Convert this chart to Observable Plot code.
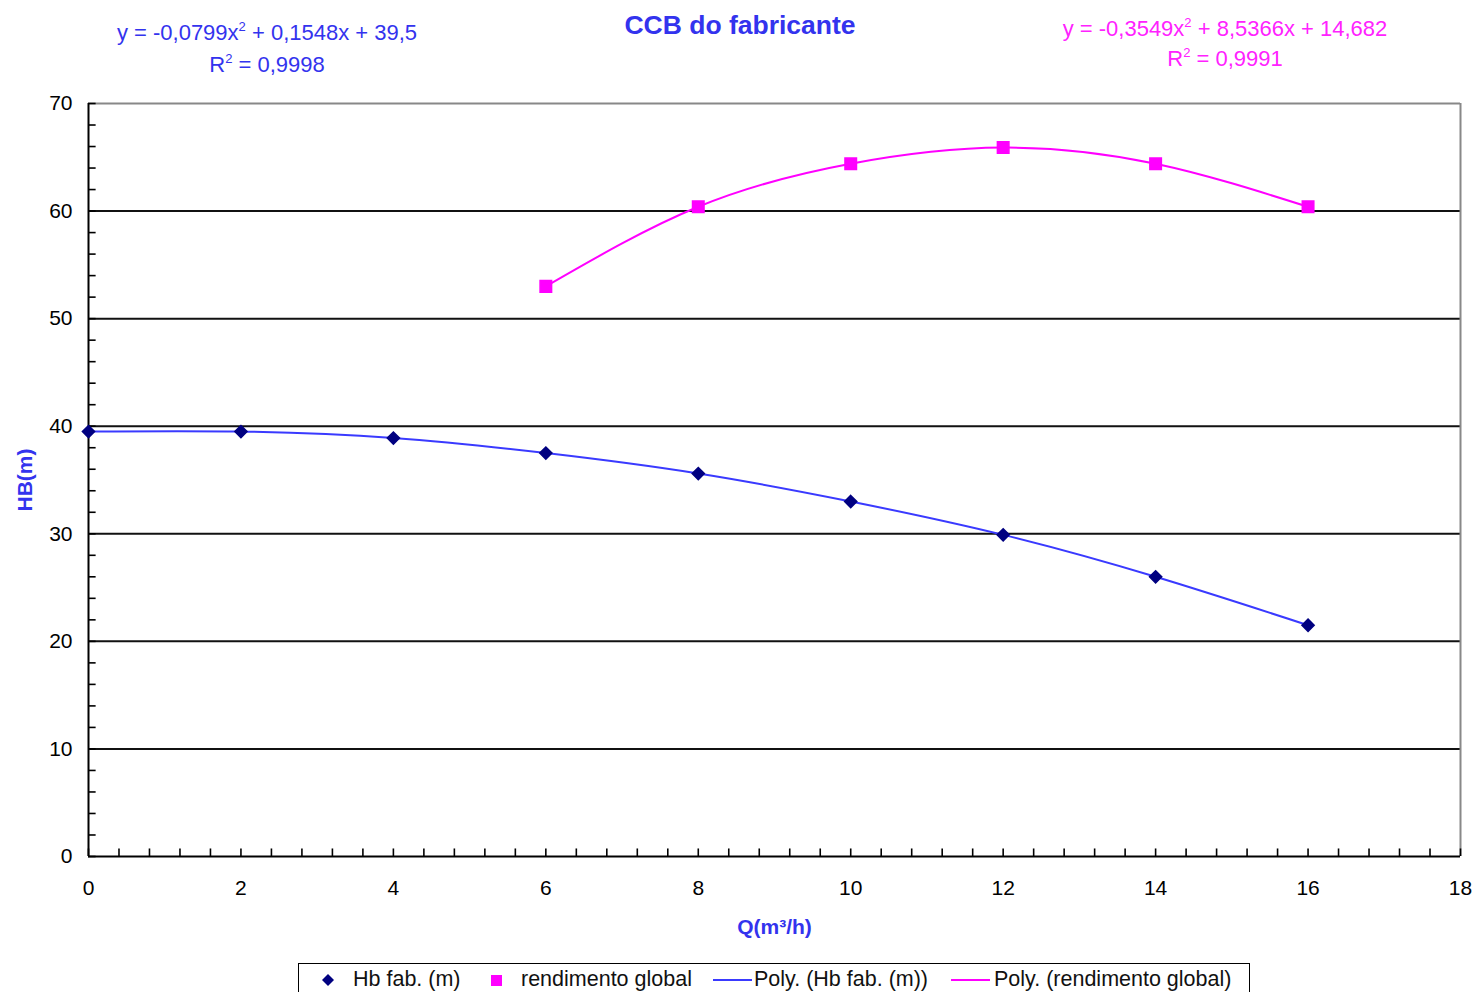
<!DOCTYPE html>
<html>
<head>
<meta charset="utf-8">
<script src="https://cdn.jsdelivr.net/npm/d3@7"></script>
<script src="https://cdn.jsdelivr.net/npm/@observablehq/plot@0.6"></script>
<style>
  html, body { margin: 0; padding: 0; background: #fff; }
  #wrap { position: relative; width: 1474px; height: 992px; overflow: hidden; font-family: "Liberation Sans", Arial, sans-serif; }
  .abs { position: absolute; white-space: nowrap; }
  .eq { font-size: 22px; line-height: 1; transform: translate(-50%, -50%); }
  .eq sup { font-size: 13px; vertical-align: 0; position: relative; top: -9px; }
  #title { left: 740px; top: 25px; transform: translate(-50%, -50%); font-size: 26.5px; font-weight: bold; color: #3333ee; }
  #legend { position: absolute; left: 298px; top: 963px; width: 952px; height: 40px; border: 1.5px solid #000; box-sizing: border-box; }
  .lg { position: absolute; top: 16px; line-height: 1; transform: translateY(-50%); font-size: 21.5px; color: #111; white-space: nowrap; }
</style>
</head>
<body>
<div id="wrap">
  <div id="chart" class="abs" style="left:0;top:0"></div>
  <div id="title" class="abs">CCB do fabricante</div>
  <div class="abs eq" style="left:267px;top:33px;color:#3333ee">y = -0,0799x<sup>2</sup> + 0,1548x + 39,5</div>
  <div class="abs eq" style="left:267px;top:65px;color:#3333ee">R<sup>2</sup> = 0,9998</div>
  <div class="abs eq" style="left:1225px;top:29px;color:#ff22ff">y = -0,3549x<sup>2</sup> + 8,5366x + 14,682</div>
  <div class="abs eq" style="left:1225px;top:59px;color:#ff22ff">R<sup>2</sup> = 0,9991</div>
  <div id="legend"></div>
</div>
<script>
// ---- data ----
const qHb = [0, 2, 4, 6, 8, 10, 12, 14, 16];
const hbFab = [39.5, 39.5, 38.9, 37.5, 35.6, 33.0, 29.9, 26.0, 21.5];
const qRend = [6, 8, 10, 12, 14, 16];
const rendimento = [53.0, 60.4, 64.4, 65.9, 64.4, 60.4];
const xTicks = [0, 2, 4, 6, 8, 10, 12, 14, 16, 18];
const yTicks = [0, 10, 20, 30, 40, 50, 60, 70];
const gridY = [10, 20, 30, 40, 50, 60];
const xMinor = d3.range(0, 18.001, 0.4).map(v => +v.toFixed(1));
const yMinor = d3.range(0, 70.001, 2);
const legendLabels = ["Hb fab. (m)", "rendimento global", "Poly. (Hb fab. (m))", "Poly. (rendimento global)"];

const hbData = qHb.map((q, i) => ({q, v: hbFab[i]}));
const rendData = qRend.map((q, i) => ({q, v: rendimento[i]}));

const blueLine = "#3a3aff";
const navy = "#000080";
const magenta = "#ff00ff";
const axisBlue = "#3333ee";

const chart = Plot.plot({
  width: 1474,
  height: 992,
  marginLeft: 88,
  marginRight: 14,
  marginTop: 103,
  marginBottom: 136,
  style: {fontFamily: '"Liberation Sans", Arial, sans-serif', fontSize: "21px", background: "transparent", color: "#000"},
  x: {domain: [0, 18]},
  y: {domain: [0, 70]},
  marks: [
    Plot.ruleY(gridY, {stroke: "#111", strokeWidth: 2}),
    Plot.ruleY([70], {stroke: "#888", strokeWidth: 2}),
    Plot.ruleX([18], {stroke: "#888", strokeWidth: 2}),
    Plot.ruleX(xMinor, {x: d => d, y1: 0, y2: 0.7, stroke: "#000", strokeWidth: 1.6}),
    Plot.ruleY(yMinor, {y: d => d, x1: 0, x2: 0.1, stroke: "#000", strokeWidth: 1.6}),
    Plot.ruleX([0], {stroke: "#000", strokeWidth: 2}),
    Plot.ruleY([0], {stroke: "#000", strokeWidth: 2}),
    Plot.axisY(yTicks, {anchor: "left", tickSize: 0, tickPadding: 16, fontSize: 21, fill: "#000", label: null}),
    Plot.axisX(xTicks, {anchor: "bottom", tickSize: 0, tickPadding: 24, fontSize: 21, fill: "#000", label: null}),
    Plot.line(hbData, {x: "q", y: "v", curve: "natural", stroke: blueLine, strokeWidth: 2}),
    Plot.line(rendData, {x: "q", y: "v", curve: "natural", stroke: magenta, strokeWidth: 2}),
    Plot.dot(hbData, {x: "q", y: "v", symbol: "diamond2", r: 5.5, fill: navy, stroke: navy}),
    Plot.dot(rendData, {x: "q", y: "v", symbol: "square", r: 6.5, fill: magenta, stroke: magenta}),
    Plot.text(["HB(m)"], {frameAnchor: "left", textAnchor: "middle", lineAnchor: "middle", rotate: -90, dx: -63, fill: axisBlue, fontWeight: "bold", fontSize: 21}),
    Plot.text(["Q(m³/h)"], {frameAnchor: "bottom", lineAnchor: "middle", dy: 71, fill: axisBlue, fontWeight: "bold", fontSize: 21})
  ]
});
document.getElementById("chart").appendChild(chart);

// ---- legend ----
const lg = document.getElementById("legend");
const items = [
  {sym: "diamond", color: navy, symX: 29, textX: 54},
  {sym: "square", color: magenta, symX: 197, textX: 222},
  {sym: "line", color: blueLine, symX: 414, textX: 455},
  {sym: "line", color: magenta, symX: 652, textX: 695}
];
items.forEach((it, i) => {
  let svg;
  if (it.sym === "diamond") {
    svg = `<svg class="abs" style="left:${it.symX - 6}px;top:10px" width="12" height="12"><path d="M6,0L12,6L6,12L0,6Z" fill="${it.color}"/></svg>`;
  } else if (it.sym === "square") {
    svg = `<svg class="abs" style="left:${it.symX - 5}px;top:11px" width="11" height="11"><rect width="11" height="11" fill="${it.color}"/></svg>`;
  } else {
    svg = `<svg class="abs" style="left:${it.symX}px;top:14px" width="39" height="4"><line x1="0" x2="39" y1="2" y2="2" stroke="${it.color}" stroke-width="2"/></svg>`;
  }
  lg.insertAdjacentHTML("beforeend", svg + `<div class="lg" style="left:${it.textX}px">${legendLabels[i]}</div>`);
});
</script>
</body>
</html>
